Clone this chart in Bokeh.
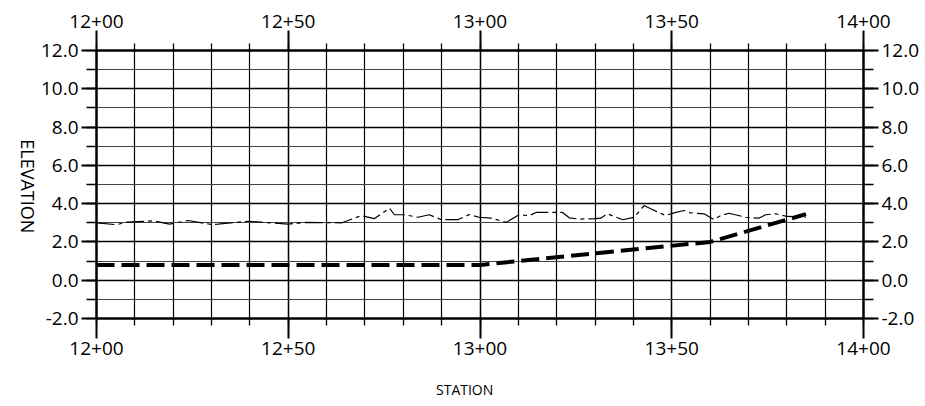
from math import pi
from bokeh.plotting import figure
from bokeh.models import (Range1d, LinearAxis, FixedTicker, Grid)
from bokeh.embed import file_html
from bokeh.resources import INLINE

# ---- data ----
x_major_ticks = [1200, 1250, 1300, 1350, 1400]
x_tick_labels = ["12+00", "12+50", "13+00", "13+50", "14+00"]
x_minor_ticks = list(range(1200, 1401, 10))
y_major_ticks = [-2, 0, 2, 4, 6, 8, 10, 12]
y_tick_labels = ["-2.0", "0.0", "2.0", "4.0", "6.0", "8.0", "10.0", "12.0"]
y_minor_ticks = list(range(-2, 13, 1))
x_title = "STATION"
y_title = "ELEVATION"
x_title_at = 1296    # station under which the x title sits
y_title_at = 2.45    # elevation at which the (top-to-bottom) y title ends

# existing ground (thin dash-dot line)
ground_station = [1200, 1205.2, 1207.8, 1214.8, 1219.0, 1223.9, 1230.0, 1231.7, 1239.5,
                  1249.9, 1254.7, 1264.0, 1269.0, 1272.5, 1276.4, 1277.7, 1280.3, 1283.8,
                  1286.8, 1289.8, 1294.2, 1297.2, 1299.8, 1302.9, 1306.8, 1310.2, 1312.8,
                  1314.6, 1321.5, 1323.3, 1325.9, 1330.2, 1331.5, 1333.2, 1337.2, 1340.2,
                  1342.8, 1344.5, 1348.4, 1350.6, 1353.2, 1354.9, 1358.4, 1361.0, 1362.8,
                  1364.9, 1369.3, 1372.7, 1374.5, 1377.1, 1380.1, 1385.0]
ground_elev = [3.00, 2.90, 3.03, 3.10, 2.93, 3.12, 2.91, 2.93, 3.08,
               2.93, 3.02, 3.00, 3.37, 3.22, 3.76, 3.42, 3.42, 3.29,
               3.42, 3.17, 3.16, 3.43, 3.29, 3.24, 3.02, 3.42, 3.37,
               3.54, 3.54, 3.26, 3.19, 3.22, 3.24, 3.47, 3.16, 3.29,
               3.90, 3.73, 3.38, 3.52, 3.64, 3.52, 3.47, 3.17, 3.38,
               3.50, 3.29, 3.24, 3.42, 3.47, 3.33, 3.30]

# proposed profile (thick dashed line)
profile_station = [1200, 1300, 1360, 1385]
profile_elev = [0.8, 0.8, 2.0, 3.45]

FONT = "Open Sans"
W, H = 922, 402

p = figure(width=W, height=H, x_range=Range1d(1200, 1400), y_range=Range1d(-2, 12),
           output_backend="svg", toolbar_location=None,
           x_axis_type=None, y_axis_type=None,
           min_border_left=95, min_border_right=40, min_border_top=50, min_border_bottom=84)
p.background_fill_color = "white"
p.border_fill_color = "white"
p.outline_line_color = "black"
p.outline_line_width = 2

xt = FixedTicker(ticks=x_major_ticks, minor_ticks=x_minor_ticks)
yt = FixedTicker(ticks=y_major_ticks, minor_ticks=y_minor_ticks)

p.add_layout(Grid(dimension=0, ticker=xt, grid_line_color="black", grid_line_width=1.4,
                  minor_grid_line_color="black", minor_grid_line_width=1.2))
p.add_layout(Grid(dimension=1, ticker=yt, grid_line_color="black", grid_line_width=1.6,
                  minor_grid_line_color="#444444", minor_grid_line_width=1.2))


def style_axis(ax, major_out, minor_out):
    ax.major_tick_out = major_out
    ax.minor_tick_out = minor_out
    ax.major_tick_in = 0
    ax.minor_tick_in = 0
    ax.major_tick_line_color = "black"
    ax.minor_tick_line_color = "black"
    ax.major_tick_line_width = 2
    ax.minor_tick_line_width = 1.3
    ax.axis_line_color = "black"
    ax.axis_line_width = 2
    ax.major_label_text_font = FONT
    ax.major_label_text_font_size = "19px"
    ax.major_label_text_color = "black"
    ax.major_label_standoff = 3


def title_axis(ticker, overrides, orientation, standoff, size):
    ax = LinearAxis(ticker=ticker, major_label_overrides=overrides)
    ax.axis_line_color = None
    ax.major_tick_line_color = None
    ax.minor_tick_line_color = None
    ax.major_tick_out = 0
    ax.minor_tick_out = 0
    ax.major_tick_in = 0
    ax.minor_tick_in = 0
    ax.major_label_text_font = FONT
    ax.major_label_text_font_size = size
    ax.major_label_text_color = "black"
    ax.major_label_orientation = orientation
    ax.major_label_standoff = standoff
    return ax


x_over = {t: s for t, s in zip(x_major_ticks, x_tick_labels)}
y_over = {t: s for t, s in zip(y_major_ticks, y_tick_labels)}

for loc in ("below", "above"):
    ax = LinearAxis(ticker=xt, major_label_overrides=x_over)
    style_axis(ax, 20, 7)
    p.add_layout(ax, loc)
for loc in ("left", "right"):
    ax = LinearAxis(ticker=yt, major_label_overrides=y_over)
    style_axis(ax, 15, 10)
    p.add_layout(ax, loc)

# axis titles (as single-tick label axes, stacked outside the real axes)
p.add_layout(title_axis(FixedTicker(ticks=[x_title_at], minor_ticks=[]),
                        {x_title_at: x_title}, "horizontal", 22, "14px"), "below")
p.add_layout(title_axis(FixedTicker(ticks=[y_title_at], minor_ticks=[]),
                        {y_title_at: y_title}, -pi / 2, 10, "18px"), "left")

p.line(ground_station, ground_elev, line_color="black", line_width=1.2, line_dash="18 4 4 4")
p.line(profile_station, profile_elev, line_color="black", line_width=4, line_dash="18 7")

open("out.html", "w").write(file_html(p, INLINE))
